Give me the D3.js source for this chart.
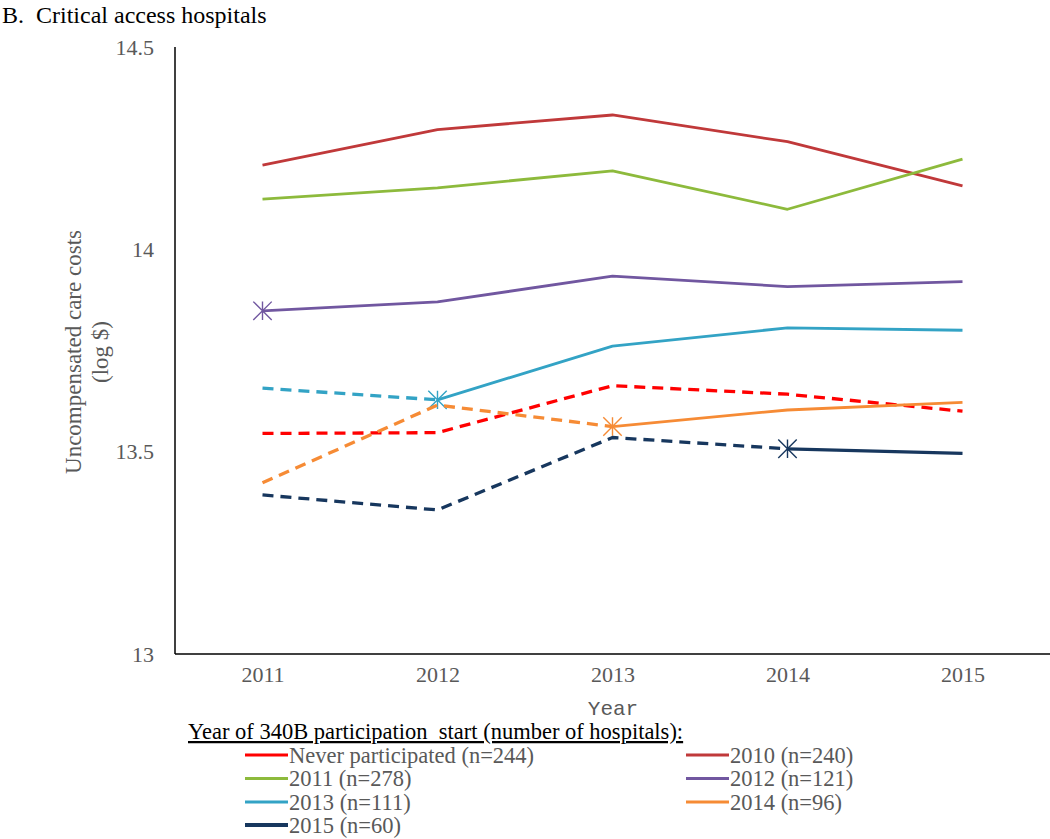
<!DOCTYPE html>
<html>
<head>
<meta charset="utf-8">
<script src="https://cdn.jsdelivr.net/npm/d3@7"></script>
<style>
  html, body { margin: 0; padding: 0; background: #fff; }
  svg { display: block; }
  text { white-space: pre; }
</style>
</head>
<body>
<script>
// ---------- data ----------
const years = ["2011", "2012", "2013", "2014", "2015"];
const yTicks = [13, 13.5, 14, 14.5];
const yTickLabels = ["13", "13.5", "14", "14.5"];

const seriesNames = ["Never participated (n=244)", "2010 (n=240)", "2011 (n=278)", "2012 (n=121)", "2013 (n=111)", "2014 (n=96)", "2015 (n=60)"];
const neverValues = [13.545, 13.547, 13.663, 13.642, 13.600];
const y2010Values = [14.208, 14.296, 14.332, 14.266, 14.157];
const y2011Values = [14.124, 14.152, 14.194, 14.099, 14.223];
const y2012Values = [13.848, 13.870, 13.934, 13.908, 13.920];
const y2013Values = [13.657, 13.628, 13.761, 13.806, 13.800];
const y2014Values = [13.423, 13.615, 13.562, 13.603, 13.622];
const y2015Values = [13.393, 13.356, 13.535, 13.507, 13.496];
// index of the year from which the line is solid (99 = never solid); star marker drawn there when marked
const solidFrom = [99, 0, 0, 0, 1, 2, 3];
const hasMarker = [false, false, false, true, true, true, true];
const seriesColors = ["#FF0000", "#C0393A", "#8DBA3C", "#7157A0", "#33A3C5", "#F68B35", "#17375E"];

const titleText = "B.  Critical access hospitals";
const yTitleLines = ["Uncompensated care costs", "(log $)"];
const xTitle = "Year";
const legendTitle = "Year of 340B participation  start (number of hospitals):";

const allValues = [neverValues, y2010Values, y2011Values, y2012Values, y2013Values, y2014Values, y2015Values];

// ---------- drawing ----------
const W = 1050, H = 839;
const svg = d3.select("body").append("svg").attr("width", W).attr("height", H);
const serif = "'Liberation Serif', 'Times New Roman', serif";
const gray = "#595959";

const x = d3.scalePoint().domain(years).range([175, 1050]).padding(0.5);
const y = d3.scaleLinear().domain([13, 14.5]).range([654, 47]);

// title
svg.append("text").attr("x", 2).attr("y", 23)
  .attr("font-family", serif).attr("font-size", 24).attr("fill", "#000")
  .attr("xml:space", "preserve")
  .text(titleText);

// axes lines
svg.append("line").attr("x1", 175).attr("x2", 175).attr("y1", y(14.5)).attr("y2", y(13))
  .attr("stroke", "#000").attr("stroke-width", 1.5);
svg.append("line").attr("x1", 175).attr("x2", 1050).attr("y1", y(13)).attr("y2", y(13))
  .attr("stroke", "#000").attr("stroke-width", 1.5);

// y tick labels
const yAxis = d3.axisLeft(y).tickValues(yTicks).tickSize(0).tickPadding(0)
  .tickFormat((d, i) => yTickLabels[i]);
const gy = svg.append("g").attr("transform", "translate(154,0)").call(yAxis);
gy.select(".domain").remove();
gy.selectAll("text").attr("font-family", serif).attr("font-size", 22).attr("fill", gray);

// x tick labels
const xAxis = d3.axisBottom(x).tickSize(0).tickPadding(0);
const gx = svg.append("g").attr("transform", "translate(0,666)").call(xAxis);
gx.select(".domain").remove();
gx.selectAll("text").attr("font-family", serif).attr("font-size", 22).attr("fill", gray);

// y title
const yt = svg.append("text")
  .attr("transform", "translate(81,352) rotate(-90)")
  .attr("text-anchor", "middle").attr("font-family", serif).attr("font-size", 23).attr("fill", gray);
yTitleLines.forEach((t, i) => {
  yt.append("tspan").attr("x", 0).attr("dy", i === 0 ? 0 : 27).text(t);
});

// x title
svg.append("text").attr("x", 613).attr("y", 715).attr("text-anchor", "middle")
  .attr("font-family", "'Liberation Mono', 'Courier New', monospace").attr("font-size", 21)
  .attr("fill", gray).text(xTitle);

// lines
const line = d3.line().x(d => x(d.year)).y(d => y(d.value));
const starType = {
  draw(ctx, size) {
    const r = Math.sqrt(size) / 2;
    ctx.moveTo(0, -r); ctx.lineTo(0, r);
    ctx.moveTo(-r, -r); ctx.lineTo(r, r);
    ctx.moveTo(-r, r); ctx.lineTo(r, -r);
  }
};

const plot = svg.append("g");
allValues.forEach((vals, si) => {
  const pts = years.map((yr, i) => ({ year: yr, value: vals[i] }));
  const sf = solidFrom[si];
  const color = seriesColors[si];
  const dashedPts = pts.slice(0, Math.min(sf, pts.length - 1) + 1);
  if (sf > 0 && dashedPts.length > 1) {
    plot.append("path").datum(dashedPts).attr("d", line)
      .attr("fill", "none").attr("stroke", color).attr("stroke-width", 3.3)
      .attr("stroke-dasharray", "11,7").attr("stroke-linejoin", "round");
  }
  if (sf < pts.length) {
    const solidPts = pts.slice(sf);
    plot.append("path").datum(solidPts).attr("d", line)
      .attr("fill", "none").attr("stroke", color).attr("stroke-width", si === 6 ? 3.3 : 2.8)
      .attr("stroke-linejoin", "round");
    if (hasMarker[si]) {
      plot.append("path")
        .attr("d", d3.symbol().type(starType).size(340)())
        .attr("transform", `translate(${x(pts[sf].year)},${y(pts[sf].value)})`)
        .attr("fill", "none").attr("stroke", color).attr("stroke-width", 1.4);
    }
  }
});

// legend
svg.append("text").attr("x", 188).attr("y", 739)
  .attr("font-family", serif).attr("font-size", 22.5).attr("fill", "#000")
  .attr("text-decoration", "underline").attr("xml:space", "preserve").text(legendTitle);

const legendRows = [755, 778.5, 802, 825];
seriesNames.forEach((name, i) => {
  const col = i % 2;
  const row = Math.floor(i / 2);
  const lx = col === 0 ? 245 : 686;
  const ly = legendRows[row];
  svg.append("line").attr("x1", lx).attr("x2", lx + 43).attr("y1", ly).attr("y2", ly)
    .attr("stroke", seriesColors[i]).attr("stroke-width", i === 6 ? 4 : 3);
  svg.append("text").attr("x", lx + 44).attr("y", ly + 7.5)
    .attr("font-family", serif).attr("font-size", 22.5).attr("fill", gray).text(name);
});
</script>
</body>
</html>
